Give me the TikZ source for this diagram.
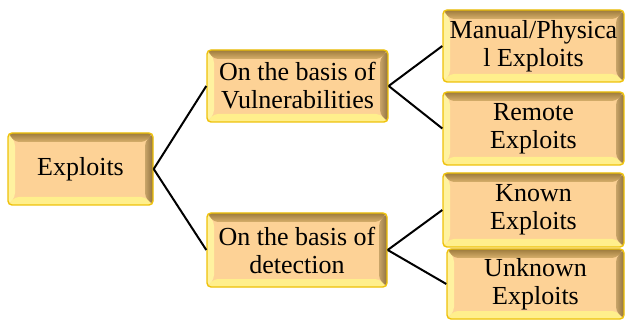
\documentclass[tikz,border=0pt]{standalone}
\usepackage{fontspec}
\setmainfont{Liberation Serif}
\usetikzlibrary{calc}
\definecolor{face}{HTML}{FDD296}
\definecolor{rim}{HTML}{EEC20A}
\definecolor{topdark}{HTML}{9C7A3C}
\definecolor{toplight}{HTML}{D8B06C}
\definecolor{rightdark}{HTML}{8E7040}
\definecolor{rightlight}{HTML}{C8A468}
\definecolor{leftcol}{HTML}{FFF2A0}
\definecolor{botcol}{HTML}{FFEF8C}
\tikzset{
  bevbox/.style={
    rectangle, rounded corners=4pt, fill=face, draw=rim, line width=1.4pt,
    align=center, inner sep=0pt, text=black,
    font=\fontsize{26}{28}\selectfont,
    path picture={
      \coordinate (pNW) at (path picture bounding box.north west);
      \coordinate (pNE) at (path picture bounding box.north east);
      \coordinate (pSW) at (path picture bounding box.south west);
      \coordinate (pSE) at (path picture bounding box.south east);
      \fill[leftcol] (pNW) -- ([xshift=7pt,yshift=-9pt]pNW) -- ([xshift=7pt,yshift=8pt]pSW) -- (pSW) -- cycle;
      \fill[botcol] (pSW) -- ([xshift=7pt,yshift=8pt]pSW) -- ([xshift=-8pt,yshift=8pt]pSE) -- (pSE) -- cycle;
      \shade[left color=rightlight, right color=rightdark] (pNE) -- ([xshift=-8pt,yshift=-9pt]pNE) -- ([xshift=-8pt,yshift=8pt]pSE) -- (pSE) -- cycle;
      \shade[top color=topdark, bottom color=toplight] (pNW) -- (pNE) -- ([xshift=-8pt,yshift=-9pt]pNE) -- ([xshift=7pt,yshift=-9pt]pNW) -- cycle;
    }
  },
  link/.style={draw=black, line width=2pt}
}
\begin{document}
\begin{tikzpicture}[x=1pt,y=-1pt]
\useasboundingbox (0,0) rectangle (626,320);
\node[bevbox, minimum width=145pt, minimum height=72pt] (ex) at (80.5,169) {Exploits};
\node[bevbox, minimum width=181pt, minimum height=72pt] (vu) at (297.5,86) {On the basis of\\Vulnerabilities};
\node[bevbox, minimum width=180pt, minimum height=74pt] (de) at (297,250) {On the basis of\\detection};
\node[bevbox, minimum width=181pt, minimum height=72pt] (ma) at (533.5,46) {Manual/Physica\\l Exploits};
\node[bevbox, minimum width=181pt, minimum height=73pt] (re) at (533.5,128.5) {Remote\\Exploits};
\node[bevbox, minimum width=181pt, minimum height=74pt] (kn) at (533.5,210) {Known\\Exploits};
\node[bevbox, minimum width=177pt, minimum height=70pt] (un) at (535.5,284) {Unknown\\Exploits};
\draw[link] (ex.east) -- (vu.west);
\draw[link] (ex.east) -- (de.west);
\draw[link] (vu.east) -- (ma.west);
\draw[link] (vu.east) -- (re.west);
\draw[link] (de.east) -- (kn.west);
\draw[link] (de.east) -- (un.west);
\end{tikzpicture}
\end{document}
